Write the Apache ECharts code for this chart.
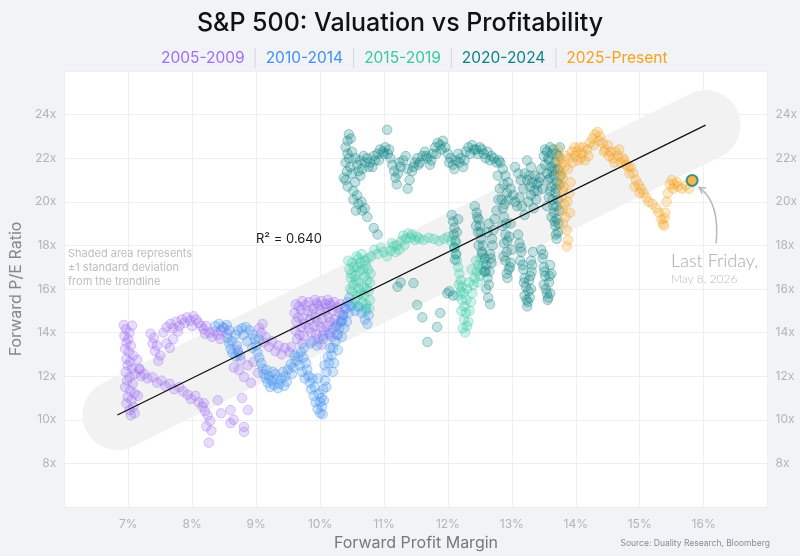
<!DOCTYPE html>
<html>
<head>
<meta charset="utf-8">
<title>S&P 500: Valuation vs Profitability</title>
<script src="https://cdn.jsdelivr.net/npm/echarts@6/dist/echarts.min.js"></script>
<style>
  html, body { margin: 0; padding: 0; background: #f2f3f7; }
  #chart { width: 800px; height: 556px; }
</style>
</head>
<body>
<div id="chart"></div>
<script>
// [forward profit margin %, forward P/E]
const era2005 = [
  [6.93,14.35],[7.06,14.32],[6.96,14.15],[7.02,14.0],[6.94,13.85],[7.0,13.7],[6.97,13.55],[7.04,13.4],
  [6.95,13.25],[7.01,13.1],[7.08,12.95],[6.97,12.8],[7.03,12.65],[7.14,12.75],[6.99,12.5],[7.06,12.35],
  [6.96,12.2],[7.1,12.1],[7.02,11.95],[6.98,11.8],[7.07,11.65],[6.95,11.5],[7.03,11.35],[7.1,11.2],
  [6.99,11.05],[7.05,10.9],[6.97,10.75],[7.08,10.6],[7.02,10.45],[7.1,10.3],[7.04,10.2],[7.17,12.35],
  [7.2,12.0],[7.15,11.1],
  [7.35,13.95],[7.4,13.75],[7.38,13.5],[7.45,13.4],[7.42,13.15],[7.5,12.95],[7.47,12.7],
  [7.55,14.0],[7.6,14.25],[7.66,14.4],[7.7,14.2],[7.75,14.5],[7.8,14.3],[7.84,14.6],[7.88,14.45],
  [7.92,14.7],[7.97,14.55],[8.02,14.75],[8.06,14.6],[8.1,14.45],[8.14,14.3],[8.18,14.15],[8.22,14.3],
  [8.27,14.0],[8.31,13.8],[8.35,14.05],[8.4,13.9],[8.45,14.1],[8.5,14.2],[7.6,13.5],[7.65,13.3],[7.7,13.7],
  [7.78,14.05],[8.0,14.3],[8.2,13.95],[8.44,13.7],[8.55,13.95],
  [7.18,12.3],[7.25,12.1],[7.3,11.9],[7.38,11.95],[7.45,11.7],[7.52,11.8],[7.58,11.55],[7.65,11.65],
  [7.72,11.4],[7.8,11.5],[7.86,11.3],[7.93,11.15],[7.98,10.95],[8.05,11.1],[8.1,10.8],[8.16,10.6],
  [8.2,10.4],[8.24,10.2],[8.28,9.95],[8.22,9.7],[8.3,9.5],[8.26,8.95],[8.18,10.77],[8.4,10.9],
  [8.45,10.3],[8.6,10.45],[8.65,10.0],[8.6,9.85],[8.81,9.67],[8.81,9.44],[8.87,10.45],[8.78,11.0],
  [8.71,13.2],[8.76,12.74],[8.87,12.5],[8.73,12.28],[8.96,12.65],[8.81,11.96],[9.03,12.15],[8.92,11.7],
  [8.65,12.4],
  [9.05,14.2],[9.1,14.4],[9.08,14.0],[9.15,13.8],[9.12,13.55],[9.2,13.35],[9.25,13.6],[9.3,13.15],
  [9.35,13.4],[9.4,13.0],[9.45,13.3],[9.52,13.1],[9.55,13.35],
  [9.62,15.3],[9.6,14.9],[9.63,14.5],[9.61,14.1],[9.64,13.7],[9.72,15.45],[9.7,15.05],[9.73,14.65],
  [9.71,14.25],[9.74,13.85],[9.72,13.5],[9.82,15.4],[9.81,15.0],[9.84,14.6],[9.82,14.2],[9.92,15.5],
  [9.9,15.1],[9.93,14.7],[9.91,14.3],[9.94,13.9],[10.02,15.45],[10.0,15.05],[10.03,14.65],[10.01,14.25],
  [10.04,13.85],[10.02,13.45],[10.12,15.5],[10.1,15.1],[10.13,14.7],[10.11,14.3],[10.14,13.9],[10.22,15.4],
  [10.2,15.0],[10.23,14.6],[10.21,14.2],[10.32,15.3],[10.3,14.9],[10.33,14.5],[9.67,15.2],[9.87,14.85],
  [9.97,15.25],[10.07,14.95],[10.17,15.25],[10.27,15.15],
  [9.66,14.7],[9.76,14.4],[9.86,14.0],[9.96,14.5],[10.06,14.1],[10.16,14.5],[10.26,14.4],[10.36,14.8],
  [9.78,15.25],[9.88,13.6],[9.98,13.7],[10.08,15.3],[10.18,13.8],[10.28,13.9],[10.38,15.1],[9.68,13.9],
  [9.95,15.35],[10.15,15.35]
]
const era2010 = [
  [8.36,14.3],[8.42,14.4],[8.48,14.25],[8.54,14.35],[8.58,14.1],
  [8.55,13.75],[8.58,13.5],[8.6,13.25],[8.63,13.05],[8.68,12.9],[8.72,13.1],[8.75,12.95],
  [8.68,13.9],[8.72,14.1],[8.78,14.2],[8.84,14.25],[8.9,14.1],[8.95,13.9],[8.98,13.7],
  [8.62,13.6],[8.7,13.4],[8.8,13.9],[8.86,13.6],[8.94,13.3],[9.04,13.7],
  [9.0,13.4],[9.02,13.1],[9.05,12.85],[9.08,12.6],[9.1,12.35],[9.12,12.1],[9.15,11.9],[9.18,11.7],
  [9.2,12.0],[9.24,11.8],[9.28,11.6],[9.32,11.85],[9.3,12.1],[9.36,11.65],[9.4,11.9],[9.42,12.2],
  [9.46,12.0],[9.5,12.3],[9.54,12.55],[9.58,12.4],[9.62,12.7],[9.66,12.9],[9.7,13.1],[9.74,12.85],
  [9.78,12.6],[9.8,12.3],[9.82,12.0],[9.84,11.7],[9.86,11.4],[9.9,11.1],[9.93,10.8],[9.96,10.5],
  [10.0,10.3],[10.03,10.6],[10.02,11.0],[10.05,11.4],[10.08,11.8],[10.1,12.2],[10.14,12.6],[10.18,12.95],
  [10.2,13.3],[10.24,13.6],[10.27,13.9],[10.3,14.2],[10.33,14.5],[10.36,14.8],[10.4,15.1],[10.43,15.4],
  [10.46,15.6],[10.5,15.3],[10.55,15.0],[10.6,15.2],[10.65,14.9],[10.7,14.6],[10.74,14.4],[10.76,14.8],
  [10.72,15.1],[10.06,10.9],[10.1,11.5],[9.98,11.2],[9.75,13.3],[9.85,13.5],[9.95,13.4],[10.05,13.7],
  [10.15,14.0],[10.25,14.3],[10.35,14.6],[10.12,12.9],[10.22,12.6],
  [9.16,12.3],[9.22,11.5],[9.26,12.2],[9.34,11.45],[9.44,11.55],[9.48,11.75],[9.56,12.1],[9.6,12.95],
  [9.68,12.5],[9.72,12.2],[9.76,11.9],[9.88,11.9],[9.92,11.5],[9.97,11.9],[10.0,10.8],[10.04,10.25],
  [10.07,12.5],[10.16,13.3],[10.2,12.2],[10.28,13.2],[10.34,13.8],[10.38,14.2],[10.42,14.5],[10.45,14.9],
  [10.48,15.2]
]
const era2015 = [
  [10.46,16.9],[10.5,17.2],[10.48,16.5],[10.52,16.2],[10.5,15.9],[10.55,16.6],[10.58,17.0],[10.6,17.4],
  [10.62,16.8],[10.6,16.3],[10.64,15.8],[10.66,15.4],[10.68,16.1],[10.7,16.6],[10.72,17.1],[10.75,16.9],
  [10.74,16.4],[10.76,15.9],[10.78,15.5],[10.77,15.1],[10.72,15.3],[10.55,15.5],[10.58,15.2],[10.65,17.6],
  [10.7,17.3],
  [10.47,16.0],[10.49,16.7],[10.53,17.0],[10.56,16.4],[10.59,15.7],[10.61,16.0],[10.63,17.2],[10.67,16.9],
  [10.69,15.7],[10.71,15.0],[10.73,16.0],[10.75,17.4],[10.78,16.3],[10.79,16.7],[10.57,17.5],[10.44,17.3],
  [10.8,17.5],[10.85,17.8],[10.9,17.6],[10.95,17.9],[11.0,17.7],[11.05,17.5],[11.1,17.75],[11.15,17.95],
  [11.2,18.0],[11.24,17.8],[11.27,18.2],[11.3,18.45],[11.34,18.3],[11.38,18.55],[11.42,18.35],[11.48,18.25],
  [11.55,18.3],[11.62,18.25],[11.7,18.35],[11.78,18.3],[11.86,18.2],[11.94,18.3],[12.0,18.4],[12.05,18.2],
  [11.12,18.1],[11.18,17.7],[11.32,18.0],[11.44,18.5],[11.52,18.4],
  [12.1,17.9],[12.12,17.6],[12.14,17.3],[12.16,17.0],[12.18,16.7],[12.2,16.4],[12.22,16.1],[12.24,15.8],
  [12.22,15.5],[12.26,15.2],[12.28,14.9],[12.25,14.6],[12.3,14.3],[12.27,14.0],[12.32,14.5],[12.34,15.0],
  [12.36,15.4],[12.38,15.8],[12.4,16.2],[12.42,16.5],[12.45,16.8],[12.48,17.1],[12.5,16.6],[12.52,16.9],
  [12.55,17.2],[12.2,15.9],[12.3,16.0],[12.15,15.7],
  [12.13,18.1],[12.17,16.2],[12.21,15.0],[12.23,14.2],[12.29,15.5],[12.33,16.3],[12.37,16.9],[12.44,17.3],
  [12.47,16.3],[12.51,17.4]
]
const era2020 = [
  [11.99,15.8],[11.88,14.9],[11.83,14.26],[11.68,13.57],[11.52,15.27],[11.46,16.27],[11.26,16.3],[11.21,16.1],
  [11.6,14.7],[12.02,15.9],[12.08,15.7],
  [10.9,18.5],[10.84,18.8],[10.74,19.3],[10.66,19.6],[10.6,19.9],[10.52,20.1],[10.52,20.5],[10.43,20.7],
  [10.4,21.0],[10.37,21.1],[10.42,21.4],[10.4,21.8],[10.45,22.0],[10.43,22.2],[10.4,22.5],[10.43,22.8],
  [10.45,23.1],[10.48,22.9],[10.47,21.6],[10.5,21.3],[10.55,20.9],[10.58,20.3],[10.65,20.0],[10.7,19.7],
  [10.56,19.6],
  [10.5,22.3],[10.55,22.0],[10.58,21.7],[10.6,21.4],[10.63,21.2],[10.66,21.5],[10.7,21.8],[10.74,22.0],
  [10.78,21.8],[10.82,21.6],[10.86,21.9],[10.9,22.2],[10.94,22.4],[10.98,22.3],[11.02,22.5],[11.05,23.3],
  [11.06,22.2],[11.1,22.0],[11.13,21.7],[11.16,21.4],[11.18,21.1],[11.2,20.8],[11.22,21.3],[11.26,21.6],
  [11.3,21.9],[11.34,22.1],[11.37,21.5],[11.37,20.6],[11.4,21.0],[11.44,21.4],[11.48,21.8],[11.52,22.0],
  [11.56,21.8],[11.6,22.1],[11.64,22.3],[11.68,22.0],[11.72,21.7],[11.76,22.2],[11.8,22.5],[11.84,22.7],
  [11.88,22.6],[11.92,22.8],[11.96,22.5],[12.0,22.2],[12.04,22.0],[12.08,21.7],[12.12,21.9],[12.16,22.2],
  [12.2,22.0],[12.24,21.6],[12.28,22.3],[12.32,22.5],[12.38,22.6],[12.44,22.4],[12.5,22.5],[12.56,22.2],
  [12.62,22.3],[12.68,22.1],[12.72,22.0],[12.76,21.8],[12.8,21.9],
  [10.62,21.9],[10.68,22.1],[10.76,21.6],[10.84,22.1],[10.92,21.9],[11.0,22.2],[11.08,22.4],[11.24,21.8],
  [11.46,21.6],[11.54,21.7],[11.66,22.1],[11.74,21.9],[11.82,22.2],[11.9,22.4],[12.02,21.8],[12.1,21.5],
  [12.18,21.8],[12.26,21.9],[12.35,22.2],[12.41,22.4],[12.47,22.2],[12.53,22.4],[12.59,22.0],[12.66,21.9],
  [12.06,19.4],[12.08,19.1],[12.1,18.8],[12.09,18.5],[12.12,18.2],[12.1,17.9],[12.13,17.6],[12.11,17.35],
  [12.16,19.2],[12.14,18.6],
  [12.42,19.8],[12.45,19.5],[12.48,19.2],[12.5,18.9],[12.47,18.6],[12.52,18.3],[12.55,18.0],[12.53,17.7],
  [12.58,17.4],[12.6,17.1],[12.57,16.8],[12.62,16.5],[12.65,16.8],[12.68,17.2],[12.66,17.6],[12.7,18.0],
  [12.48,18.0],[12.44,18.9],[12.62,18.6],[12.64,19.0],[12.6,16.0],[12.63,15.6],[12.66,15.3],
  [12.46,19.3],[12.51,18.6],[12.54,17.6],[12.59,16.8],[12.64,16.2],[12.67,17.4],[12.69,18.3],[12.71,18.7],
  [12.73,19.2],[12.76,19.6],[12.79,20.1],[12.81,20.6],[12.78,21.2],
  [12.82,21.8],[12.86,21.5],[12.9,21.2],[12.94,20.9],[12.98,20.6],[13.02,20.3],[13.05,20.0],[13.08,19.8],
  [12.84,20.1],[12.86,19.7],[12.88,19.3],[12.85,18.9],[12.9,18.5],[12.88,18.1],[12.92,17.7],[12.9,17.3],
  [12.95,16.9],[12.93,16.5],[12.98,17.2],[13.0,17.8],[12.96,18.4],[12.98,19.0],
  [12.87,20.8],[12.92,20.4],[12.95,20.1],[12.89,19.9],[12.91,19.0],[12.93,18.2],[12.87,17.5],[12.92,16.7],
  [12.97,17.0],
  [13.05,21.6],[13.1,21.3],[13.14,21.0],[13.18,20.6],[13.12,20.2],[13.16,19.8],[13.2,19.4],
  [13.1,18.5],[13.12,18.1],[13.15,17.7],[13.13,17.3],[13.18,16.9],[13.2,16.5],[13.22,16.1],[13.2,15.7],
  [13.25,15.4],[13.24,15.2],[13.28,15.6],[13.3,16.0],[13.27,16.4],[13.31,16.8],[13.3,17.3],[13.33,17.7],
  [13.14,17.9],[13.17,17.1],[13.19,16.3],[13.23,15.5],[13.26,15.9],[13.29,16.6],[13.32,17.1],
  [13.2,21.3],[13.24,21.0],[13.28,20.7],[13.3,20.3],[13.26,20.0],[13.34,19.7],[13.38,20.1],[13.4,20.5],
  [13.42,20.9],[13.36,21.2],[13.3,21.6],[13.24,21.9],
  [13.27,21.2],[13.32,20.9],[13.35,20.5],[13.39,20.8],[13.44,21.1],[13.46,21.5],
  [13.46,17.8],[13.48,17.4],[13.5,17.0],[13.52,16.6],[13.5,16.2],[13.55,15.8],[13.56,15.5],[13.6,15.8],
  [13.58,16.3],[13.62,16.7],[13.6,17.1],
  [13.49,17.6],[13.51,16.8],[13.53,16.0],[13.57,15.6],[13.59,16.6],
  [13.5,22.1],[13.55,22.3],[13.6,22.5],[13.65,22.4],[13.7,22.2],[13.75,22.5],[13.52,21.7],[13.58,21.9],
  [13.62,21.6],[13.68,21.8],[13.72,21.5],[13.55,21.3],[13.6,21.1],[13.66,21.2],[13.7,20.9],[13.62,20.7],
  [13.68,20.4],[13.64,20.1],[13.7,19.8],[13.66,19.5],[13.7,19.2],[13.68,18.9],[13.72,18.6],[13.7,18.3],
  [13.58,20.2],[13.55,19.8],[13.74,20.8],[13.76,21.2],[13.48,20.6],
  [13.52,22.4],[13.57,22.0],[13.63,22.2],[13.67,21.5],[13.73,22.1],[13.57,21.0],[13.63,21.4],[13.69,20.6],
  [13.6,20.5],[13.65,19.8],[13.72,20.1],[13.67,19.1],[13.73,19.0],[13.69,18.5],[13.74,19.6],[13.62,19.3]
]
const era2025 = [
  [13.72,22.4],[13.75,22.0],[13.78,21.7],[13.74,21.4],[13.8,21.1],[13.76,20.8],[13.8,20.5],[13.78,20.2],
  [13.82,19.9],[13.79,19.6],[13.84,19.3],[13.8,19.0],[13.86,18.7],[13.88,18.25],[13.86,17.95],[13.9,20.4],
  [13.92,20.9],[13.88,21.5],[13.9,22.0],[13.94,22.3],[13.98,22.5],[14.02,22.3],[14.06,22.5],[14.1,22.2],
  [14.14,21.9],[14.18,22.4],[14.22,22.7],[14.26,22.9],[14.3,23.1],[14.34,23.2],[14.38,23.0],[14.42,22.7],
  [14.46,22.4],[14.5,22.6],[14.54,22.3],[14.58,22.0],[14.62,22.3],[14.66,22.1],[14.7,21.8],[14.74,22.0],
  [14.78,21.7],[14.82,21.6],[14.86,21.6],[14.9,21.3],[14.94,21.0],[14.98,20.8],[15.02,20.6],[15.06,20.4],
  [15.1,20.2],[15.14,20.0],[15.2,19.9],[15.26,19.7],[15.3,19.5],[15.34,19.2],[15.38,18.9],[15.4,19.5],
  [15.42,20.0],[15.44,20.4],[15.47,20.8],[15.5,21.0],[15.54,20.8],[15.6,20.7],[15.66,20.6],[15.72,20.75],
  [15.77,20.6],
  [13.73,21.9],[13.77,21.2],[13.81,20.7],[13.83,21.6],[13.85,22.1],[13.87,20.0],[13.91,19.5],[13.95,21.8],
  [13.99,22.1],[14.04,21.9],[14.08,22.0],[14.12,22.5],[14.2,22.1],[14.28,22.6],[14.36,22.8],[14.44,22.3],
  [14.52,22.1],[14.6,21.8],[14.68,22.4],[14.76,21.9],[14.84,21.3],[14.92,20.7],[15.0,20.4],[15.36,19.0],
  [15.39,19.25],[15.52,20.6],[15.58,20.9]
]
const lastFriday = [15.82, 20.98]

// fitted trend line, ends of the fit
const trendX = [6.83, 16.03]
const trendY = [10.22, 23.52]

const eraNames = ['2005-2009', '2010-2014', '2015-2019', '2020-2024', '2025-Present']
const eraColors = ['#9d6ff2', '#3f90f0', '#36c9a3', '#0b8383', '#f7a21b']
const eraData = [era2005, era2010, era2015, era2020, era2025]

const xTicks = [6, 17]   // min / max of the margin axis
const yTicks = [6, 26]   // min / max of the P/E axis

function rgba(hex, a) {
  const n = parseInt(hex.slice(1), 16)
  return 'rgba(' + (n >> 16) + ',' + ((n >> 8) & 255) + ',' + (n & 255) + ',' + a + ')'
}

const chart = echarts.init(document.getElementById('chart'))
const font = 'Inter, "Noto Sans", sans-serif'
const trend = trendX.map((x, i) => [x, trendY[i]])

// title legend built from era names and colours
const richLegend = {
  s: { width: 1, height: 20, backgroundColor: '#d6d6dc' },
  p: { width: 10 }
}
let legendText = ''
eraNames.forEach((n, i) => {
  richLegend['e' + i] = { color: eraColors[i], fontSize: 15.5, fontWeight: 400, fontFamily: font }
  legendText += (i ? '{p|}{s|}{p|}' : '') + '{e' + i + '|' + n + '}'
})

const yAxisBase = {
  type: 'value',
  min: yTicks[0],
  max: yTicks[1],
  interval: 2,
  axisLine: { show: false },
  axisTick: { show: false },
  axisLabel: {
    color: '#b4b4b8',
    fontSize: 12,
    fontFamily: font,
    formatter: v => (v === yTicks[0] || v === yTicks[1]) ? '' : v + 'x'
  }
}

const option = {
  backgroundColor: '#f2f3f7',
  animation: false,
  title: [
    {
      text: 'S&P 500: Valuation vs Profitability',
      left: 'center',
      top: 6,
      textStyle: { fontFamily: font, fontSize: 25, fontWeight: 500, color: '#111' }
    },
    {
      text: legendText,
      left: 156,
      top: 43,
      textStyle: { fontWeight: 400, rich: richLegend }
    }
  ],
  grid: {
    left: 62, right: 31, top: 71, bottom: 49,
    show: true, backgroundColor: '#ffffff', borderWidth: 0
  },
  xAxis: {
    type: 'value',
    min: xTicks[0],
    max: xTicks[1],
    interval: 1,
    name: 'Forward Profit Margin',
    nameLocation: 'middle',
    nameGap: 21,
    nameTextStyle: { color: '#77777c', fontSize: 16, fontFamily: font },
    axisLine: { show: false },
    axisTick: { show: false },
    splitLine: { lineStyle: { color: '#efeff1' } },
    axisLabel: {
      color: '#b4b4b8',
      fontSize: 12,
      fontFamily: font,
      margin: 11,
      formatter: v => (v === xTicks[0] || v === xTicks[1]) ? '' : v + '%'
    }
  },
  yAxis: [
    Object.assign({}, yAxisBase, {
      position: 'left',
      name: 'Forward P/E Ratio',
      nameLocation: 'middle',
      nameGap: 32,
      nameTextStyle: { color: '#87878c', fontSize: 16, fontFamily: font },
      splitLine: { lineStyle: { color: '#efeff1' } }
    }),
    Object.assign({}, yAxisBase, {
      position: 'right',
      splitLine: { show: false }
    })
  ],
  series: [
    {
      type: 'line',
      data: trend,
      symbol: 'none',
      silent: true,
      z: 1,
      lineStyle: { width: 70, cap: 'round', color: '#f2f2f3' }
    },
    ...eraData.map((d, i) => ({
      name: eraNames[i],
      type: 'scatter',
      data: d,
      symbolSize: 9.5,
      z: 3,
      itemStyle: {
        color: rgba(eraColors[i], 0.3),
        borderColor: rgba(eraColors[i], 0.45),
        borderWidth: 1
      }
    })),
    {
      type: 'line',
      data: trend,
      symbol: 'none',
      silent: true,
      z: 4,
      lineStyle: { width: 1.3, color: '#111' }
    },
    {
      type: 'scatter',
      data: [lastFriday],
      symbolSize: 11,
      z: 5,
      itemStyle: { color: eraColors[4], borderColor: eraColors[3], borderWidth: 2 }
    }
  ]
}

chart.setOption(option)

// annotations placed around the converted position of the last point
const p = chart.convertToPixel({ gridIndex: 0 }, lastFriday)
const tip = [p[0] + 7, p[1] + 7]
const ctrl = [p[0] + 28, p[1] + 22]
const start = [p[0] + 24, p[1] + 63]
const dx = tip[0] - ctrl[0], dy = tip[1] - ctrl[1]
const len = Math.sqrt(dx * dx + dy * dy)
const ux = dx / len, uy = dy / len
const wing = (ang) => {
  const c = Math.cos(ang), s = Math.sin(ang)
  return [tip[0] - 7 * (ux * c - uy * s), tip[1] - 7 * (ux * s + uy * c)]
}

chart.setOption({
  graphic: [
    {
      type: 'text',
      left: 256, top: 233,
      style: { text: 'R² = 0.640', fill: '#1a1a1a', font: '13px ' + font }
    },
    {
      type: 'text',
      left: 68, top: 247,
      style: {
        text: 'Shaded area represents\n±1 standard deviation\nfrom the trendline',
        fill: '#bdbdc2', font: '11px ' + font, lineHeight: 14
      }
    },
    {
      type: 'bezierCurve',
      shape: { x1: start[0], y1: start[1], cpx1: ctrl[0], cpy1: ctrl[1], x2: tip[0], y2: tip[1] },
      style: { stroke: '#b8b8bc', lineWidth: 1.5, fill: null }
    },
    {
      type: 'polyline',
      shape: { points: [wing(0.5), tip, wing(-0.5)] },
      style: { stroke: '#b8b8bc', lineWidth: 1.5, fill: null }
    },
    {
      type: 'text',
      left: p[0] - 21, top: p[1] + 72,
      style: { text: 'Last Friday,', fill: '#a9a9ae', font: '300 18px Lato, ' + font }
    },
    {
      type: 'text',
      left: p[0] - 21, top: p[1] + 93,
      style: { text: 'May 8, 2026', fill: '#b9b9be', font: '300 12px Lato, ' + font }
    },
    {
      type: 'text',
      right: 30, top: 539,
      style: { text: 'Source: Duality Research, Bloomberg', fill: '#8a8a90', font: '8.5px ' + font }
    }
  ]
})
</script>
</body>
</html>
